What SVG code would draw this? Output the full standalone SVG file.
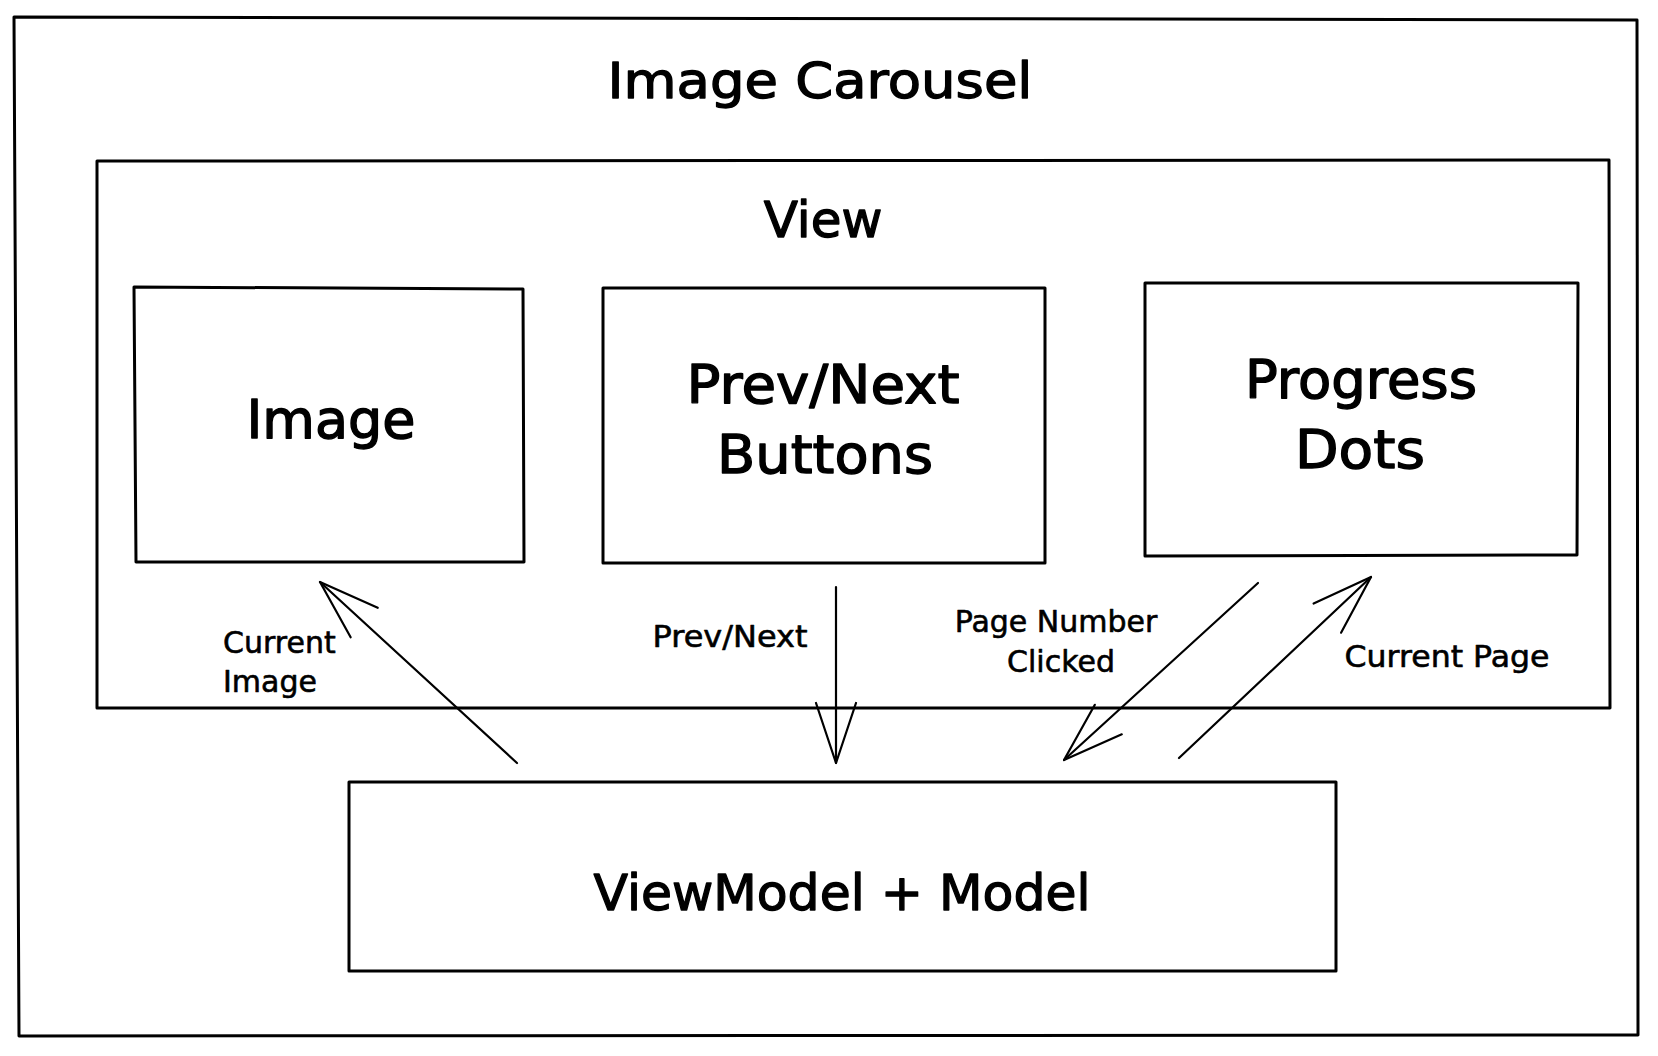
<svg xmlns="http://www.w3.org/2000/svg" width="1658" height="1056" viewBox="0 0 1658 1056">
  <style>
    .box { fill: none; stroke: #000; stroke-width: 3; stroke-linejoin: round; stroke-linecap: round; }
    .conn { fill: none; stroke: #000; stroke-width: 2.2; stroke-linecap: round; }
    .t { font-family: "DejaVu Sans", "Noto Sans", sans-serif; fill: #000; stroke: #000; stroke-linejoin: round; }
    .title { font-size: 50px; text-anchor: middle; stroke-width: 1.3; }
    .node { font-size: 54px; text-anchor: middle; stroke-width: 1.4; }
    .lbl { font-size: 30px; stroke-width: 0.6; }
    .mid { text-anchor: middle; }
  </style>
  <defs>
    <marker id="arrow" markerUnits="userSpaceOnUse" viewBox="-70 -25 80 50" markerWidth="80" markerHeight="50" refX="0" refY="0" orient="auto" overflow="visible">
      <path d="M-60,-20 L0,0 L-60,20" fill="none" stroke="#000" stroke-width="2.2" stroke-linecap="round" stroke-linejoin="round"/>
    </marker>
  </defs>
  <rect x="0" y="0" width="1658" height="1056" fill="#fff"/>

  <g id="image-carousel">
    <path class="box" d="M14,17 L1637,20 L1638,1035 L19,1036 Z"/>
    <text class="t title" x="820" y="98" textLength="425" lengthAdjust="spacingAndGlyphs">Image Carousel</text>
  </g>

  <g id="view">
    <path class="box" d="M97,161 L1609,160 L1610,708 L97,708 Z"/>
    <text class="t title" x="823" y="237">View</text>
  </g>

  <g id="image">
    <path class="box" d="M134,287 L523,289 L524,562 L136,562 Z"/>
    <text class="t node" x="331" y="438" font-size="52">Image</text>
  </g>

  <g id="prev-next-buttons">
    <path class="box" d="M603,288 L1045,288 L1045,563 L603,563 Z"/>
    <text class="t node" x="823" y="403" textLength="273" lengthAdjust="spacingAndGlyphs">Prev/Next</text>
    <text class="t node" x="825" y="473" textLength="216" lengthAdjust="spacingAndGlyphs">Buttons</text>
  </g>

  <g id="progress-dots">
    <path class="box" d="M1145,283 L1578,283 L1577,555 L1145,556 Z"/>
    <text class="t node" x="1361" y="398" textLength="232" lengthAdjust="spacingAndGlyphs">Progress</text>
    <text class="t node" x="1360" y="468" textLength="130" lengthAdjust="spacingAndGlyphs">Dots</text>
  </g>

  <g id="viewmodel-model">
    <path class="box" d="M349,782 L1336,782 L1336,971 L349,971 Z"/>
    <text class="t title" x="842" y="910" textLength="497" lengthAdjust="spacingAndGlyphs">ViewModel + Model</text>
  </g>

  <g id="connectors">
    <path class="conn" d="M517,763 L320,582" marker-end="url(#arrow)"/>
    <path class="conn" d="M836,587 L836,763" marker-end="url(#arrow)"/>
    <path class="conn" d="M1258,583 L1064,760" marker-end="url(#arrow)"/>
    <path class="conn" d="M1179,758 L1371,577" marker-end="url(#arrow)"/>

    <text class="t lbl" x="223" y="653">Current</text>
    <text class="t lbl" x="223" y="692">Image</text>
    <text class="t lbl mid" x="730" y="647" font-size="31" textLength="155" lengthAdjust="spacingAndGlyphs">Prev/Next</text>
    <text class="t lbl mid" x="1056" y="632">Page Number</text>
    <text class="t lbl mid" x="1061" y="672">Clicked</text>
    <text class="t lbl mid" x="1447" y="667" font-size="31" textLength="205" lengthAdjust="spacingAndGlyphs">Current Page</text>
  </g>
</svg>
